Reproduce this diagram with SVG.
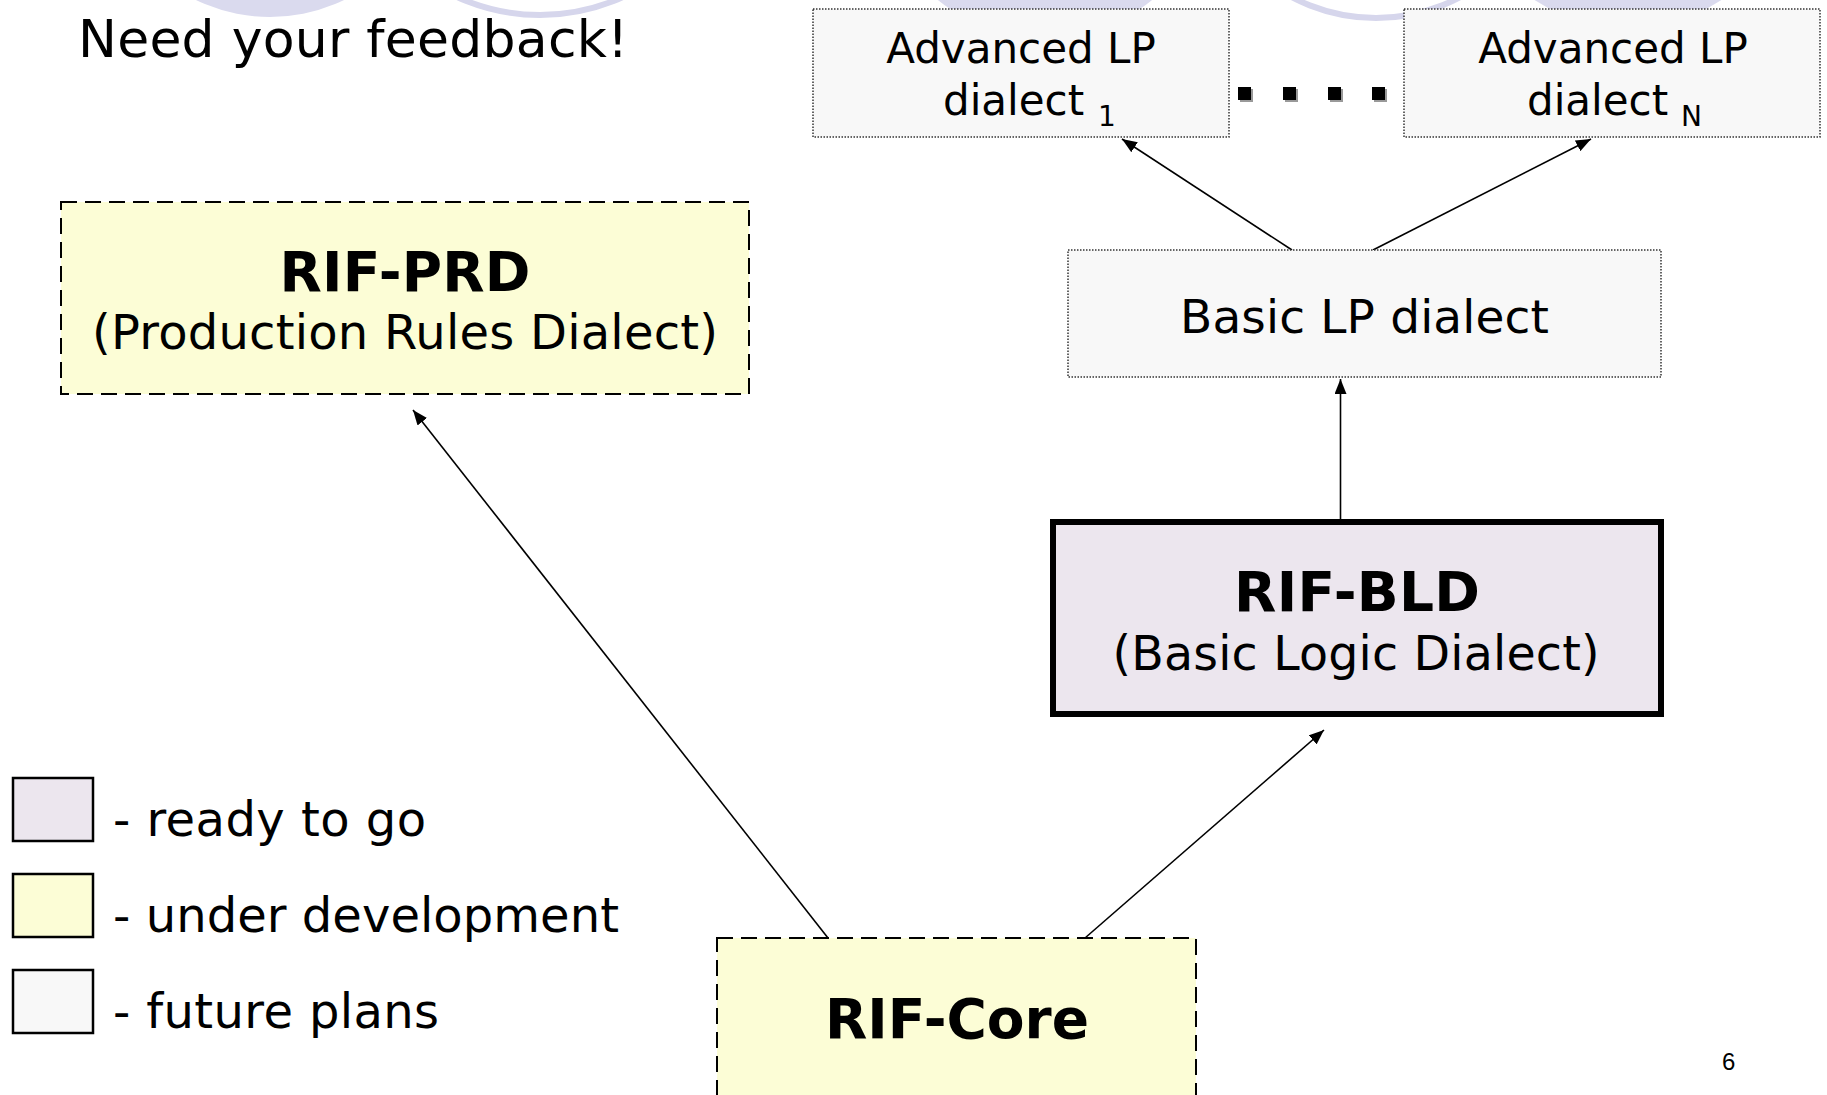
<svg xmlns="http://www.w3.org/2000/svg" width="1827" height="1095" viewBox="0 0 1827 1095">
  <style>
    text { font-family: "DejaVu Sans", Verdana, sans-serif; fill: #000; }
    .bold { font-weight: bold; }
    .mid { text-anchor: middle; }
    .dashed { stroke: #000; stroke-width: 2; stroke-dasharray: 16 8; }
    .dotted { stroke: #333; stroke-width: 1.5; stroke-dasharray: 1.5 1.5; }
    .yellow { fill: #fcfdd6; }
    .grey { fill: #f8f8f8; }
    .lav { fill: #ece6ee; }
    .conn { stroke: #000; stroke-width: 1.6; fill: none; marker-end: url(#arrow); }
    .deco-fill { fill: #dadaee; }
    .deco-ring { fill: none; stroke: #d6d6ec; stroke-width: 6; }
    .legend { stroke: #000; stroke-width: 2.5; }
  </style>
  <defs>
    <marker id="arrow" markerUnits="userSpaceOnUse" markerWidth="16" markerHeight="12" refX="15" refY="6" orient="auto">
      <path d="M0,0 L15,6 L0,12 z" fill="#000"/>
    </marker>
  </defs>
  <rect width="1827" height="1095" fill="#fff"/>

  <g id="decoration">
    <circle class="deco-fill" cx="270" cy="-153" r="170"/>
    <circle class="deco-ring" cx="540" cy="-185" r="200"/>
    <circle class="deco-fill" cx="1045" cy="-132" r="170"/>
    <circle class="deco-ring" cx="1376" cy="-162" r="180"/>
    <circle class="deco-fill" cx="1628" cy="-142" r="170"/>
  </g>

  <g id="title">
    <text x="78" y="57" font-size="52" textLength="550" lengthAdjust="spacing">Need your feedback!</text>
  </g>

  <g id="connectors">
    <line class="conn" x1="828" y1="938" x2="413" y2="410"/>
    <line class="conn" x1="1085" y1="938" x2="1324" y2="730"/>
    <line class="conn" x1="1340.5" y1="519" x2="1340.5" y2="379"/>
    <line class="conn" x1="1292" y1="250" x2="1122" y2="139"/>
    <line class="conn" x1="1373" y1="250" x2="1591" y2="139"/>
  </g>

  <g id="rif-prd">
    <rect class="yellow dashed" x="61" y="202" width="688" height="192"/>
    <text class="bold mid" x="405" y="291" font-size="55" textLength="251" lengthAdjust="spacing">RIF-PRD</text>
    <text class="mid" x="405" y="349" font-size="48" textLength="626" lengthAdjust="spacing">(Production Rules Dialect)</text>
  </g>

  <g id="adv-lp-1">
    <rect class="grey dotted" x="813" y="9" width="416" height="128"/>
    <text class="mid" x="1021" y="63" font-size="42">Advanced LP</text>
    <text x="943" y="115" font-size="42">dialect</text>
    <text x="1098" y="126" font-size="28">1</text>
  </g>

  <g id="dots">
    <rect x="1240" y="89" width="13" height="13" fill="#999"/>
    <rect x="1285" y="89" width="13" height="13" fill="#999"/>
    <rect x="1330" y="89" width="13" height="13" fill="#999"/>
    <rect x="1374" y="89" width="13" height="13" fill="#999"/>
    <rect x="1238" y="87" width="13" height="13" fill="#000"/>
    <rect x="1283" y="87" width="13" height="13" fill="#000"/>
    <rect x="1328" y="87" width="13" height="13" fill="#000"/>
    <rect x="1372" y="87" width="13" height="13" fill="#000"/>
  </g>

  <g id="adv-lp-n">
    <rect class="grey dotted" x="1404" y="9" width="416" height="128"/>
    <text class="mid" x="1613" y="63" font-size="42">Advanced LP</text>
    <text x="1527" y="115" font-size="42">dialect</text>
    <text x="1681" y="126" font-size="28">N</text>
  </g>

  <g id="basic-lp">
    <rect class="grey dotted" x="1068" y="250" width="593" height="127"/>
    <text class="mid" x="1364.5" y="333" font-size="47" textLength="369" lengthAdjust="spacing">Basic LP dialect</text>
  </g>

  <g id="rif-bld">
    <rect class="lav" x="1053" y="522" width="608" height="192" stroke="#000" stroke-width="6"/>
    <text class="bold mid" x="1357" y="611" font-size="55" textLength="246" lengthAdjust="spacing">RIF-BLD</text>
    <text class="mid" x="1356" y="670" font-size="47.5" textLength="487" lengthAdjust="spacing">(Basic Logic Dialect)</text>
  </g>

  <g id="rif-core">
    <rect class="yellow dashed" x="717" y="938" width="479" height="200"/>
    <text class="bold mid" x="957" y="1038" font-size="55" textLength="264" lengthAdjust="spacing">RIF-Core</text>
  </g>

  <g id="legend">
    <rect class="lav legend" x="13" y="778" width="80" height="63"/>
    <text x="113" y="836" font-size="48" textLength="313" lengthAdjust="spacing">- ready to go</text>
    <rect class="yellow legend" x="13" y="874" width="80" height="63"/>
    <text x="113" y="932" font-size="48" textLength="506" lengthAdjust="spacing">- under development</text>
    <rect class="grey legend" x="13" y="970" width="80" height="63"/>
    <text x="113" y="1028" font-size="48" textLength="326" lengthAdjust="spacing">- future plans</text>
  </g>

  <g id="page-number">
    <text x="1722" y="1070" font-size="24" style="font-family: 'Liberation Sans', Arial, sans-serif;">6</text>
  </g>
</svg>
